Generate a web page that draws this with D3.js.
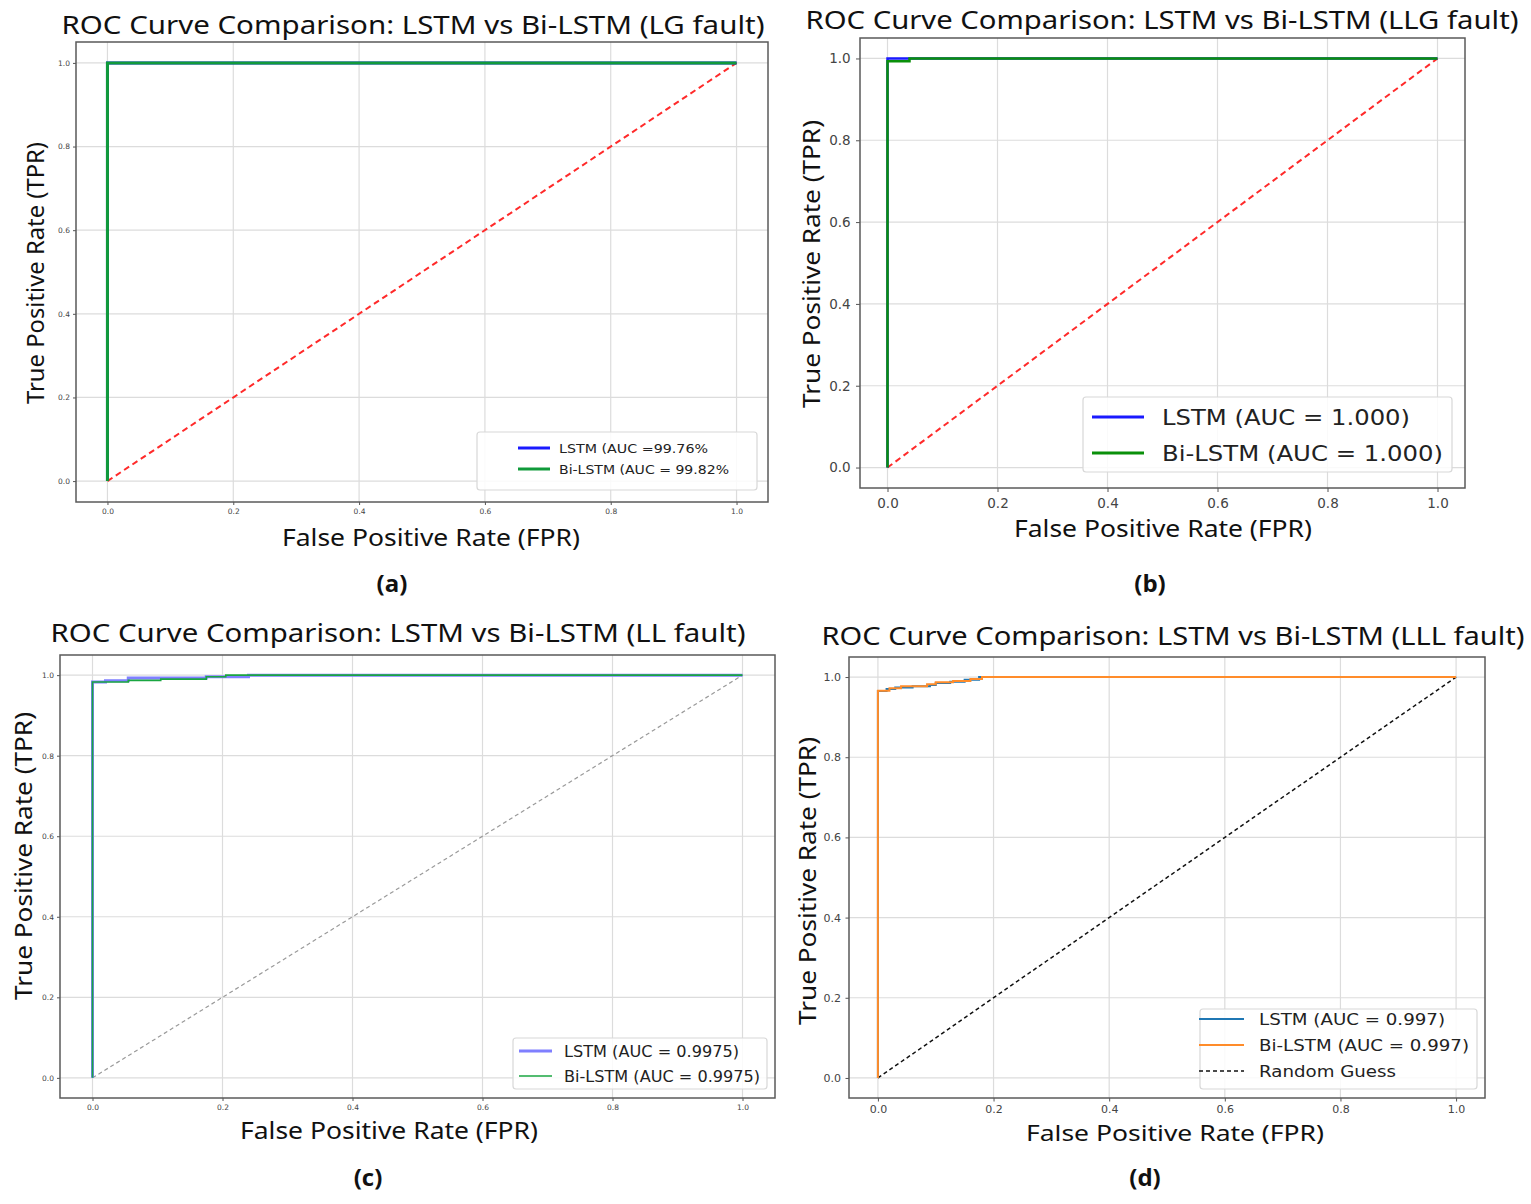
<!DOCTYPE html>
<html>
<head>
<meta charset="utf-8">
<script src="https://cdn.jsdelivr.net/npm/d3@7"></script>
<style>
  body { margin: 0; background: #fff; }
  svg { display: block; }
</style>
</head>
<body>
<div id="viz"></div>
<script>
// tick values shared by every panel
var TICKS = [0, 0.2, 0.4, 0.6, 0.8, 1.0];
var DIAGONAL = [[0, 0], [1, 1]];

// (a) LG fault
var lgLstm = [[0, 0], [0, 1], [1, 1]];
var lgBiLstm = [[0, 0], [0, 1], [1, 1]];

// (b) LLG fault
var llgLstm = [[0, 0], [0, 1], [0.036, 1], [1, 1]];
var llgBiLstm = [[0, 0], [0, 0.993], [0.04, 0.993], [0.04, 1], [1, 1]];

// (c) LL fault
var llLstm = [[0, 0], [0, 0.983], [0.02, 0.983], [0.02, 0.986], [0.055, 0.986], [0.055, 0.993],
  [0.175, 0.993], [0.175, 0.996], [0.24, 0.996], [0.24, 1], [1, 1]];
var llBiLstm = [[0, 0], [0, 0.983], [0.055, 0.983], [0.055, 0.987], [0.105, 0.987], [0.105, 0.99],
  [0.175, 0.99], [0.175, 0.996], [0.205, 0.996], [0.205, 1], [1, 1]];

// (d) LLL fault
var lllLstm = [[0, 0], [0, 0.965], [0.015, 0.965], [0.015, 0.97], [0.03, 0.97], [0.03, 0.974],
  [0.06, 0.974], [0.06, 0.977], [0.09, 0.977], [0.09, 0.98], [0.1, 0.98], [0.1, 0.985],
  [0.125, 0.985], [0.125, 0.988], [0.15, 0.988], [0.15, 0.993], [0.175, 0.993], [0.175, 1], [1, 1]];
var lllBiLstm = [[0, 0], [0, 0.966], [0.02, 0.966], [0.02, 0.972], [0.04, 0.972], [0.04, 0.977],
  [0.085, 0.977], [0.085, 0.982], [0.1, 0.982], [0.1, 0.987], [0.13, 0.987], [0.13, 0.99],
  [0.16, 0.99], [0.16, 0.995], [0.18, 0.995], [0.18, 1], [1, 1]];

var titles = [
  "ROC Curve Comparison: LSTM vs Bi-LSTM (LG fault)",
  "ROC Curve Comparison: LSTM vs Bi-LSTM (LLG fault)",
  "ROC Curve Comparison: LSTM vs Bi-LSTM (LL fault)",
  "ROC Curve Comparison: LSTM vs Bi-LSTM (LLL fault)"
];
var panelTags = ["(a)", "(b)", "(c)", "(d)"];
var xLabel = "False Positive Rate (FPR)";
var yLabel = "True Positive Rate (TPR)";

var legendA = ["LSTM (AUC =99.76%", "Bi-LSTM (AUC =  99.82%"];
var legendB = ["LSTM (AUC = 1.000)", "Bi-LSTM (AUC = 1.000)"];
var legendC = ["LSTM (AUC = 0.9975)", "Bi-LSTM (AUC = 0.9975)"];
var legendD = ["LSTM (AUC = 0.997)", "Bi-LSTM (AUC = 0.997)", "Random Guess"];

var W = 1531, H = 1204;
var svg = d3.select("#viz").append("svg").attr("width", W).attr("height", H);

var TEXT_FONT = "'Noto Sans', 'Open Sans', sans-serif";
var TICK_FONT = "'DejaVu Sans', sans-serif";

// layout per panel
var panels = [
  {
    frame: {l: 76, t: 42, r: 768, b: 502}, tickSize: 7.5, tickLen: 3, tickPad: 4,
    title: {x: 413, y: 34, len: 703}, xl: {x: 431, y: 546, size: 24}, yl: {x: 44, y: 273, len: 262},
    tag: {x: 392, y: 592},
    series: [
      {pts: DIAGONAL, color: "#ff2a2a", width: 2, dash: "6,4"},
      {pts: lgLstm, color: "#1a1aff", width: 3},
      {pts: lgBiLstm, color: "#109a3a", width: 3}
    ],
    legend: {x: 477, y: 432, w: 280, h: 58, rows: [448, 469], lx: [518, 550], tx: 559, size: 12.5,
      lens: [149, 170], items: [{color: "#1a1aff", width: 3}, {color: "#109a3a", width: 3}], labels: legendA}
  },
  {
    frame: {l: 860, t: 38, r: 1465, b: 488}, tickSize: 13.5, tickLen: 4, tickPad: 6,
    title: {x: 1162, y: 29, len: 713}, xl: {x: 1163, y: 537, size: 24}, yl: {x: 820, y: 264, len: 288},
    tag: {x: 1150, y: 592},
    series: [
      {pts: DIAGONAL, color: "#ff2a2a", width: 2, dash: "6,4"},
      {pts: llgLstm, color: "#1a1aff", width: 2.5},
      {pts: llgBiLstm, color: "#0a900a", width: 2.5}
    ],
    legend: {x: 1083, y: 397, w: 369, h: 75, rows: [417, 453], lx: [1092, 1144], tx: 1162, size: 22,
      lens: [248, 281], items: [{color: "#1a1aff", width: 3}, {color: "#0a900a", width: 3}], labels: legendB}
  },
  {
    frame: {l: 60, t: 655, r: 775, b: 1098}, tickSize: 7.5, tickLen: 3, tickPad: 4,
    title: {x: 398, y: 642, len: 695}, xl: {x: 389, y: 1139, size: 24}, yl: {x: 32, y: 856, len: 288},
    tag: {x: 368, y: 1186},
    series: [
      {pts: DIAGONAL, color: "#9a9a9a", width: 1.2, dash: "4,3"},
      {pts: llLstm, color: "#7f7fff", width: 3},
      {pts: llBiLstm, color: "#1aa640", width: 1.6}
    ],
    legend: {x: 513, y: 1038, w: 254, h: 51, rows: [1051, 1076], lx: [519, 552], tx: 564, size: 15.5,
      lens: [175, 196], items: [{color: "#7f7fff", width: 3}, {color: "#1aa640", width: 1.6}], labels: legendC}
  },
  {
    frame: {l: 849, t: 657, r: 1485, b: 1098}, tickSize: 11, tickLen: 3.5, tickPad: 4,
    title: {x: 1173, y: 645, len: 703}, xl: {x: 1175, y: 1141, size: 22}, yl: {x: 816, y: 881, len: 288},
    tag: {x: 1145, y: 1186},
    series: [
      {pts: DIAGONAL, color: "#111", width: 1.5, dash: "4,3"},
      {pts: lllLstm, color: "#1f77b4", width: 2},
      {pts: lllBiLstm, color: "#ff8c2a", width: 2}
    ],
    legend: {x: 1200, y: 1009, w: 277, h: 80, rows: [1019, 1045, 1071], lx: [1199, 1244], tx: 1259, size: 16.5,
      lens: [186, 210, 137],
      items: [{color: "#1f77b4", width: 2}, {color: "#ff8c2a", width: 2}, {color: "#111", width: 1.5, dash: "4,3"}],
      labels: legendD}
  }
];

panels.forEach(function(p, i) {
  var f = p.frame;
  var g = svg.append("g");

  var x = d3.scaleLinear().domain([-0.05, 1.05]).range([f.l, f.r]);
  var y = d3.scaleLinear().domain([-0.05, 1.05]).range([f.b, f.t]);

  // grid
  g.selectAll(".gx").data(TICKS).enter().append("line")
    .attr("x1", function(d) { return x(d); }).attr("x2", function(d) { return x(d); })
    .attr("y1", f.t).attr("y2", f.b)
    .style("stroke", "#dcdcdc").style("stroke-width", 1.2);
  g.selectAll(".gy").data(TICKS).enter().append("line")
    .attr("y1", function(d) { return y(d); }).attr("y2", function(d) { return y(d); })
    .attr("x1", f.l).attr("x2", f.r)
    .style("stroke", "#dcdcdc").style("stroke-width", 1.2);

  // axes
  var xAxis = d3.axisBottom(x).tickValues(TICKS).tickFormat(d3.format(".1f"))
    .tickSize(p.tickLen).tickPadding(p.tickPad);
  var yAxis = d3.axisLeft(y).tickValues(TICKS).tickFormat(d3.format(".1f"))
    .tickSize(p.tickLen).tickPadding(p.tickSize * 0.4);

  var gx = g.append("g").attr("transform", "translate(0," + f.b + ")").call(xAxis);
  var gy = g.append("g").attr("transform", "translate(" + f.l + ",0)").call(yAxis);
  [gx, gy].forEach(function(a) {
    a.select(".domain").remove();
    a.selectAll(".tick line").style("stroke", "#555");
    a.selectAll(".tick text").style("font-family", TICK_FONT)
      .style("font-size", p.tickSize + "px").style("fill", "#444");
  });

  // curves
  var clipId = "clip" + i;
  svg.append("clipPath").attr("id", clipId).append("rect")
    .attr("x", f.l).attr("y", f.t).attr("width", f.r - f.l).attr("height", f.b - f.t);

  var line = d3.line().x(function(d) { return x(d[0]); }).y(function(d) { return y(d[1]); });
  g.append("g").attr("clip-path", "url(#" + clipId + ")")
    .selectAll("path").data(p.series).enter().append("path")
    .attr("d", function(s) { return line(s.pts); })
    .style("fill", "none")
    .style("stroke", function(s) { return s.color; })
    .style("stroke-width", function(s) { return s.width; })
    .style("stroke-dasharray", function(s) { return s.dash || null; });

  // frame
  g.append("rect").attr("x", f.l).attr("y", f.t).attr("width", f.r - f.l).attr("height", f.b - f.t)
    .style("fill", "none").style("stroke", "#5a5a5a").style("stroke-width", 1.5);

  // legend
  var L = p.legend;
  g.append("rect").attr("x", L.x).attr("y", L.y).attr("width", L.w).attr("height", L.h)
    .attr("rx", 3).attr("ry", 3)
    .style("fill", "rgba(255,255,255,0.85)").style("stroke", "#d8d8d8").style("stroke-width", 1.2);
  var rows = g.selectAll(".leg").data(L.labels).enter().append("g");
  rows.append("line")
    .attr("x1", L.lx[0]).attr("x2", L.lx[1])
    .attr("y1", function(d, k) { return L.rows[k]; }).attr("y2", function(d, k) { return L.rows[k]; })
    .style("stroke", function(d, k) { return L.items[k].color; })
    .style("stroke-width", function(d, k) { return L.items[k].width; })
    .style("stroke-dasharray", function(d, k) { return L.items[k].dash || null; });
  rows.append("text")
    .attr("x", L.tx).attr("y", function(d, k) { return L.rows[k]; })
    .attr("dy", "0.36em")
    .attr("textLength", function(d, k) { return L.lens[k]; })
    .attr("lengthAdjust", "spacingAndGlyphs")
    .style("font-family", TICK_FONT).style("font-size", L.size + "px").style("fill", "#222")
    .text(function(d) { return d; });

  // title and axis labels
  g.append("text").attr("x", p.title.x).attr("y", p.title.y)
    .attr("text-anchor", "middle")
    .attr("textLength", p.title.len).attr("lengthAdjust", "spacingAndGlyphs")
    .style("font-family", TEXT_FONT).style("font-size", "26px").style("fill", "#111")
    .text(titles[i]);
  g.append("text").attr("x", p.xl.x).attr("y", p.xl.y)
    .attr("text-anchor", "middle")
    .attr("textLength", 298).attr("lengthAdjust", "spacingAndGlyphs")
    .style("font-family", TEXT_FONT).style("font-size", p.xl.size + "px").style("fill", "#111")
    .text(xLabel);
  g.append("text")
    .attr("transform", "translate(" + p.yl.x + "," + p.yl.y + ") rotate(-90)")
    .attr("text-anchor", "middle")
    .attr("textLength", p.yl.len).attr("lengthAdjust", "spacingAndGlyphs")
    .style("font-family", TEXT_FONT).style("font-size", "24px").style("fill", "#111")
    .text(yLabel);

  g.append("text").attr("x", p.tag.x).attr("y", p.tag.y)
    .attr("text-anchor", "middle")
    .style("font-family", "'Open Sans', sans-serif").style("font-weight", 700)
    .style("font-size", "24px").style("fill", "#111")
    .text(panelTags[i]);
});
</script>
</body>
</html>
